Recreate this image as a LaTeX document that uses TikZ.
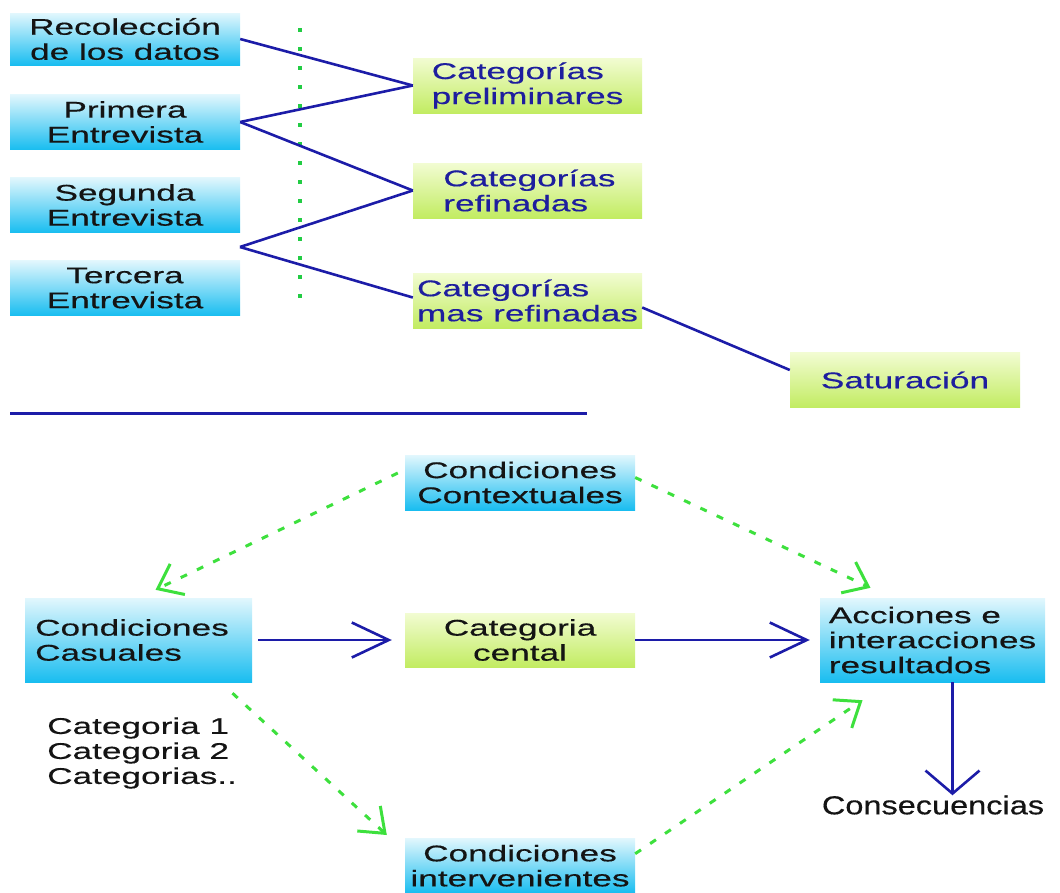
\documentclass[tikz,border=0pt]{standalone}
\usepackage{fontspec}
\setmainfont{Liberation Sans}[FakeStretch=1.55,FakeBold=0.4]
\newfontfamily\consfont{Liberation Sans}[FakeStretch=1.25,FakeBold=0.4]
\usetikzlibrary{arrows.meta}
\definecolor{boxtext}{HTML}{141414}
\definecolor{navy}{HTML}{1E1E9E}
\definecolor{linecol}{HTML}{1C1CA8}
\definecolor{cyantop}{HTML}{E2F7FD}
\definecolor{cyanbot}{HTML}{19BDF0}
\definecolor{limetop}{HTML}{F2FCD2}
\definecolor{limebot}{HTML}{C2EC62}
\definecolor{dashgreen}{HTML}{3DE03D}
\definecolor{dotgreen}{HTML}{22CC44}
\tikzset{
  txt/.style={font=\fontsize{22.7}{25}\selectfont, inner sep=0pt},
  bluebox/.style={txt, rectangle, minimum width=230pt, minimum height=55pt,
    top color=cyantop, bottom color=cyanbot, draw=none, text=boxtext},
  greenbox/.style={txt, rectangle, minimum width=229pt, minimum height=55pt,
    top color=limetop, bottom color=limebot, draw=none, text=navy},
  plain/.style={txt, text=boxtext},
  link/.style={draw=linecol, line width=2.6pt},
  bigarrow/.style={link, -{Straight Barb[length=37pt,width=35pt]}},
  downarrow/.style={link, -{Straight Barb[length=23pt,width=54pt]}},
  greenarrow/.style={draw=dashgreen, line width=3pt, dash pattern=on 7pt off 11pt,
    -{Straight Barb[length=22pt,width=34pt]}},
  greendots/.style={draw=dotgreen, line width=4pt, dash pattern=on 4pt off 15pt},
}
\begin{document}
\begin{tikzpicture}[x=1pt,y=-1pt]
\useasboundingbox (0,0) rectangle (1060,892);
% ---------- top part ----------
\node[bluebox, minimum height=52pt, align=center] (r1) at (125,39) {Recolección\\de los datos};
\node[bluebox, align=center] (r2) at (125,122) {Primera\\Entrevista};
\node[bluebox, align=center] (r3) at (125,205) {Segunda\\Entrevista};
\node[bluebox, align=center] (r4) at (125,288) {Tercera\\Entrevista};
\coordinate (j) at (240,247);

\node[greenbox, align=left] (g1) at (527.5,85.5) {Categorías\\preliminares};
\node[greenbox, align=left] (g2) at (527.5,190.5) {\,Categorías\\\,refinadas};
\node[greenbox, align=left] (g3) at (527.5,300.5) {Categorías\\mas refinadas};
\node[greenbox, minimum width=230pt] (sat) at (905,380) {Saturación};

\coordinate (d1) at (300,28);
\coordinate (d2) at (300,300);
\draw[greendots] (d1) -- (d2);

\draw[link] (r1.east) -- (g1.west);
\draw[link] (r2.east) -- (g1.west);
\draw[link] (r2.east) -- (g2.west);
\draw[link] (j) -- (g2.west);
\draw[link] (j) -- ([yshift=3pt]g3.west);
\draw[link] ([yshift=-7pt]g3.east) -- ([yshift=10pt]sat.west);

\coordinate (h1) at (10,413);
\coordinate (h2) at (587,413);
\draw[link, line width=3pt] (h1) -- (h2);

% ---------- bottom part ----------
\node[bluebox, align=center] (ctx) at (520,482.5) {Condiciones\\Contextuales};
\node[bluebox, minimum width=227pt, minimum height=84pt, align=left] (cas) at (138.5,640) {Condiciones\\Casuales\hspace*{60pt}};
\node[greenbox, minimum width=230pt, minimum height=54pt, align=center, text=boxtext] (cen) at (520,640) {Categoria\\cental};
\node[bluebox, minimum width=225pt, minimum height=84pt, align=left] (acc) at (932.5,640) {Acciones e\\interacciones\\resultados};
\node[bluebox, align=center, anchor=north] (int) at (520,838) {Condiciones\\intervenientes};
\node[plain, align=left, anchor=west] (list) at (47,753) {Categoria 1\\Categoria 2\\Categorias..};
\node[plain, font=\consfont\fontsize{26}{28}\selectfont] (cons) at (933,805) {Consecuencias};

\draw[bigarrow, shorten <=6pt, shorten >=13pt] (cas.east) -- (cen.west);
\draw[bigarrow, shorten >=10pt] (cen.east) -- (acc.west);
\draw[downarrow] ([xshift=20pt]acc.south) -- ([xshift=19.5pt]cons.north);

\draw[greenarrow] ([xshift=-7pt,yshift=9.5pt]ctx.west) -- ([xshift=17pt,yshift=8pt]cas.north);
\draw[greenarrow] ([yshift=5pt]ctx.east) -- ([xshift=-62pt,yshift=10pt]acc.north);
\draw[greenarrow] ([xshift=94pt,yshift=-11pt]cas.south) -- ([xshift=-18pt,yshift=3pt]int.north west);
\draw[greenarrow] ([yshift=12pt]int.east) -- ([xshift=-70pt,yshift=-18pt]acc.south);
\end{tikzpicture}
\end{document}
